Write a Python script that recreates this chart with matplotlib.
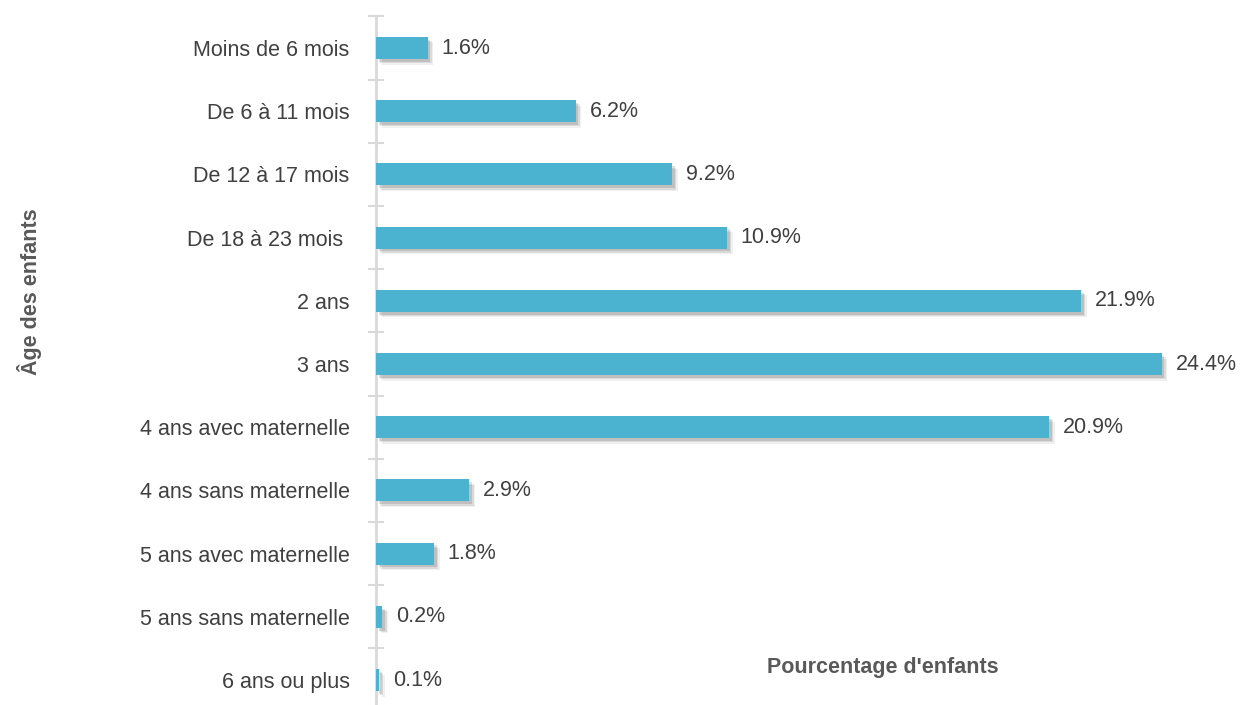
import matplotlib
matplotlib.use("Agg")
import matplotlib.pyplot as plt
import matplotlib.patheffects as pe
from matplotlib import font_manager
import numpy as np

categories = ["Moins de 6 mois", "De 6 à 11 mois", "De 12 à 17 mois", "De 18 à 23 mois ",
              "2 ans", "3 ans", "4 ans avec maternelle", "4 ans sans maternelle",
              "5 ans avec maternelle", "5 ans sans maternelle", "6 ans ou plus"]
values = [1.6, 6.2, 9.2, 10.9, 21.9, 24.4, 20.9, 2.9, 1.8, 0.2, 0.1]
value_labels = ["1.6%", "6.2%", "9.2%", "10.9%", "21.9%", "24.4%", "20.9%", "2.9%", "1.8%", "0.2%", "0.1%"]

names = {f.name for f in font_manager.fontManager.ttflist}
fam = ["Liberation Sans Narrow"] if "Liberation Sans Narrow" in names else []
fam += ["Liberation Sans", "DejaVu Sans"]
plt.rcParams['font.family'] = fam

fig = plt.figure(figsize=(12.4, 7.05), dpi=100)
ax = fig.add_axes([376/1240, 0.0, 1 - 376/1240, 1 - 16.4/705])

y = np.arange(len(categories))
shadows = [pe.SimplePatchShadow(offset=(4, -4), shadow_rgbFace="#000000", alpha=0.06),
           pe.SimplePatchShadow(offset=(3, -3), shadow_rgbFace="#000000", alpha=0.09),
           pe.SimplePatchShadow(offset=(2, -2), shadow_rgbFace="#000000", alpha=0.12),
           pe.Normal()]
bars = ax.barh(y, values, height=0.35, color="#4bb2d0", edgecolor="none", zorder=3,
               path_effects=shadows)

for yi, v, lab in zip(y, values, value_labels):
    ax.annotate(lab, (v, yi), xytext=(10, 0), textcoords="offset points",
                va="center", ha="left", fontsize=15.5, color="#404040")

ax.set_xlim(0, (1240 - 376) / 32.2)
ax.set_ylim(10.395, -0.5)
ax.set_yticks(y)
ax.set_yticklabels(categories, fontsize=15.5, color="#404040")
ax.set_yticks(np.arange(-0.5, 10.5, 1), minor=True)
ax.tick_params(axis="y", which="major", length=0, pad=19)
ax.tick_params(axis="y", which="minor", length=12, width=1.5, color="#d9d9d9", direction="inout")
ax.set_xticks([])
for s in ["top", "right", "bottom"]:
    ax.spines[s].set_visible(False)
ax.spines["left"].set_color("#d9d9d9")
ax.spines["left"].set_linewidth(2)
ax.patch.set_alpha(0)

fig.text(30/1240, 1 - 292/705, "Âge des enfants", rotation=90, ha="center", va="center",
         fontsize=15.5, fontweight="bold", color="#595959")
fig.text(883/1240, 1 - 668/705, "Pourcentage d'enfants", ha="center", va="center",
         fontsize=15.5, fontweight="bold", color="#595959")

fig.savefig("out.png", dpi=100)
